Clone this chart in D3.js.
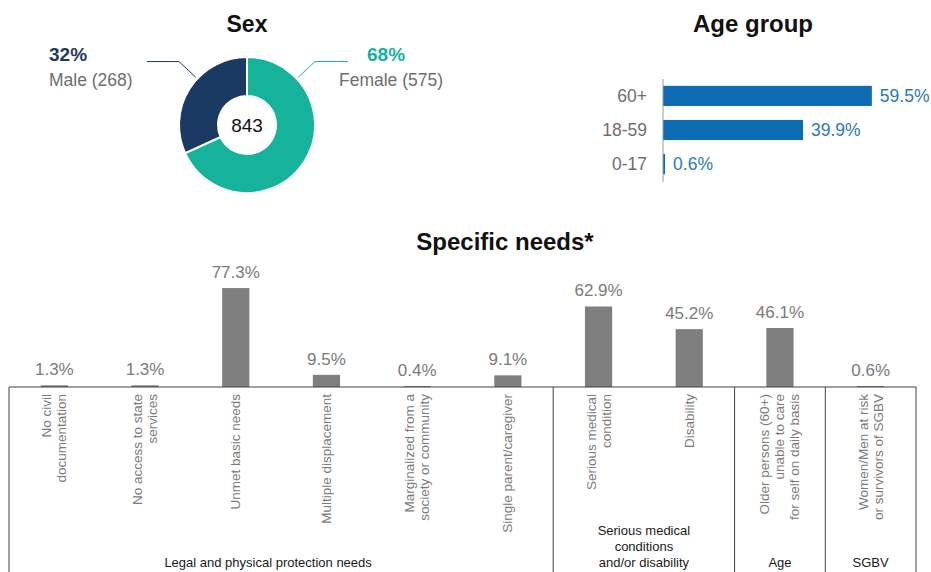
<!DOCTYPE html>
<html>
<head>
<meta charset="utf-8">
<script src="https://cdn.jsdelivr.net/npm/d3@7"></script>
<style>
  html, body { margin: 0; padding: 0; background: #fff; }
  svg { display: block; font-family: "Liberation Sans", Arial, sans-serif; }
</style>
</head>
<body>
<svg id="chart" width="931" height="572"></svg>
<script>
// ---------- DATA ----------
const sexLabels = ["Female", "Male"];
const sexCounts = [575, 268];
const sexPct = ["68%", "32%"];
const sexTotal = 843;

const ageGroups = ["60+", "18-59", "0-17"];
const agePct = [59.5, 39.9, 0.6];

const needs = [
  "No civil\ndocumentation",
  "No access to state\nservices",
  "Unmet basic needs",
  "Multiple displacement",
  "Marginalized from a\nsociety or community",
  "Single parent/caregiver",
  "Serious medical\ncondition",
  "Disability",
  "Older persons (60+)\nunable to care\nfor self on daily basis",
  "Women/Men at risk\nor survivors of SGBV"
];
const needsPct = [1.3, 1.3, 77.3, 9.5, 0.4, 9.1, 62.9, 45.2, 46.1, 0.6];
const needGroupOf = [0, 0, 0, 0, 0, 0, 1, 1, 2, 3];
const groupNames = [
  "Legal and physical protection needs",
  "Serious medical\nconditions\nand/or disability",
  "Age",
  "SGBV"
];

// ---------- STYLE ----------
const C = {
  female: "#15b39b", male: "#1b3a63",
  ageBar: "#0e6cb5", ageVal: "#2b78b8",
  grayText: "#7a7a7a", needBar: "#7f7f7f", dark: "#1a1a1a", box: "#404040"
};

const svg = d3.select("#chart");

// ---------- SEX DONUT ----------
const cx = 247, cy = 125, rOuter = 68, rInner = 29;
svg.append("text").attr("x", cx).attr("y", 32).attr("text-anchor", "middle")
  .attr("font-size", 23).attr("font-weight", "bold").attr("fill", "#111").text("Sex");

const pie = d3.pie().sort(null).value(d => d)(sexCounts);
const arc = d3.arc().innerRadius(rInner).outerRadius(rOuter);
const donut = svg.append("g").attr("transform", `translate(${cx},${cy})`);
donut.selectAll("path").data(pie).join("path")
  .attr("d", arc)
  .attr("fill", (d, i) => i === 0 ? C.female : C.male)
  .attr("stroke", "#fff").attr("stroke-width", 2);
donut.append("text").attr("text-anchor", "middle").attr("dy", "0.35em")
  .attr("font-size", 19).attr("fill", "#111").text(sexTotal);

// leader lines & labels
const leaders = [
  { ang: 47 * Math.PI / 180, endX: 348, color: C.female, i: 0, tx: 339, px: 367 },
  { ang: -47 * Math.PI / 180, endX: 147, color: C.male, i: 1, tx: 49, px: 49 }
];
leaders.forEach(L => {
  const p1 = [cx + 70 * Math.sin(L.ang), cy - 70 * Math.cos(L.ang)];
  const p2 = [cx + 93 * Math.sin(L.ang), cy - 93 * Math.cos(L.ang)];
  svg.append("polyline")
    .attr("points", [p1, p2, [L.endX, p2[1]]].map(p => p.join(",")).join(" "))
    .attr("fill", "none").attr("stroke", L.color).attr("stroke-width", 1);
  svg.append("text").attr("x", L.px).attr("y", 61)
    .attr("font-size", 19).attr("font-weight", "bold").attr("fill", L.color)
    .text(sexPct[L.i]);
  svg.append("text").attr("x", L.tx).attr("y", 86)
    .attr("font-size", 17.5).attr("fill", "#6e6e6e")
    .text(`${sexLabels[L.i]} (${sexCounts[L.i]})`);
});

// ---------- AGE GROUP ----------
svg.append("text").attr("x", 753).attr("y", 32).attr("text-anchor", "middle")
  .attr("font-size", 24).attr("font-weight", "bold").attr("fill", "#111").text("Age group");

const ax = d3.scaleLinear().domain([0, 100]).range([663, 663 + 351]);
const ay = d3.scaleBand().domain(ageGroups).range([79, 181]).paddingInner(0.41).paddingOuter(0.2);

svg.append("g").selectAll("rect").data(ageGroups).join("rect")
  .attr("x", ax(0)).attr("y", d => ay(d))
  .attr("width", (d, i) => Math.max(2, ax(agePct[i]) - ax(0)))
  .attr("height", ay.bandwidth())
  .attr("fill", C.ageBar);
svg.append("line").attr("x1", ax(0)).attr("x2", ax(0)).attr("y1", 79).attr("y2", 182)
  .attr("stroke", "#9a9a9a").attr("stroke-width", 1);
svg.append("g").selectAll("text").data(ageGroups).join("text")
  .attr("x", ax(0) - 16).attr("y", d => ay(d) + ay.bandwidth() / 2).attr("dy", "0.35em")
  .attr("text-anchor", "end").attr("font-size", 17.5).attr("fill", "#6e6e6e").text(d => d);
svg.append("g").selectAll("text").data(ageGroups).join("text")
  .attr("x", (d, i) => Math.max(ax(0) + 2, ax(agePct[i])) + 8)
  .attr("y", d => ay(d) + ay.bandwidth() / 2).attr("dy", "0.35em")
  .attr("font-size", 17.5).attr("fill", C.ageVal).text((d, i) => agePct[i].toFixed(1) + "%");

// ---------- SPECIFIC NEEDS ----------
svg.append("text").attr("x", 505).attr("y", 250).attr("text-anchor", "middle")
  .attr("font-size", 24).attr("font-weight", "bold").attr("fill", "#111").text("Specific needs*");

const baseY = 387, left = 9, right = 916;
const nx = d3.scaleBand().domain(needs).range([left, right]).paddingInner(0.7).paddingOuter(0.35);
const ny = d3.scaleLinear().domain([0, 100]).range([baseY, baseY - 128]);

svg.append("g").selectAll("rect").data(needs).join("rect")
  .attr("x", d => nx(d)).attr("width", nx.bandwidth())
  .attr("y", (d, i) => Math.min(ny(needsPct[i]), baseY - 1))
  .attr("height", (d, i) => Math.max(1, baseY - ny(needsPct[i])))
  .attr("fill", C.needBar);

svg.append("g").selectAll("text").data(needs).join("text")
  .attr("x", d => nx(d) + nx.bandwidth() / 2)
  .attr("y", (d, i) => ny(needsPct[i]) - 10)
  .attr("text-anchor", "middle").attr("font-size", 17).attr("fill", C.grayText)
  .text((d, i) => needsPct[i].toFixed(1) + "%");

// rotated category labels
const lh = 15;
needs.forEach(d => {
  const lines = d.split("\n");
  const c = nx(d) + nx.bandwidth() / 2;
  const t = svg.append("text")
    .attr("transform", `translate(${c},${baseY + 7}) rotate(-90)`)
    .attr("text-anchor", "end").attr("font-size", 13.5).attr("fill", C.grayText);
  lines.forEach((ln, i) => {
    t.append("tspan").attr("x", 0)
      .attr("y", (i - (lines.length - 1) / 2) * lh + 4.5).text(ln);
  });
});

// box & dividers
const box = svg.append("g").attr("stroke", C.box).attr("stroke-width", 1).attr("fill", "none");
box.append("line").attr("x1", left).attr("x2", right).attr("y1", baseY).attr("y2", baseY);
box.append("line").attr("x1", left).attr("x2", left).attr("y1", baseY).attr("y2", 572);
box.append("line").attr("x1", right).attr("x2", right).attr("y1", baseY).attr("y2", 572);

const groupBounds = groupNames.map((g, gi) => {
  const idx = needGroupOf.map((v, i) => v === gi ? i : -1).filter(i => i >= 0);
  return { first: idx[0], last: idx[idx.length - 1] };
});
const dividers = [];
for (let gi = 0; gi < groupBounds.length - 1; gi++) {
  const a = nx(needs[groupBounds[gi].last]) + nx.bandwidth();
  const b = nx(needs[groupBounds[gi + 1].first]);
  dividers.push((a + b) / 2);
}
dividers.forEach(x => box.append("line").attr("x1", x).attr("x2", x).attr("y1", baseY).attr("y2", 572));

const edges = [left, ...dividers, right];
groupNames.forEach((g, gi) => {
  const lines = g.split("\n");
  let mid = (edges[gi] + edges[gi + 1]) / 2;
  if (gi === 0) mid -= 13;
  const t = svg.append("text").attr("text-anchor", "middle")
    .attr("font-size", 13).attr("fill", C.dark);
  lines.forEach((ln, i) => {
    t.append("tspan").attr("x", mid)
      .attr("y", 567 - (lines.length - 1 - i) * 16).text(ln);
  });
});
</script>
</body>
</html>
